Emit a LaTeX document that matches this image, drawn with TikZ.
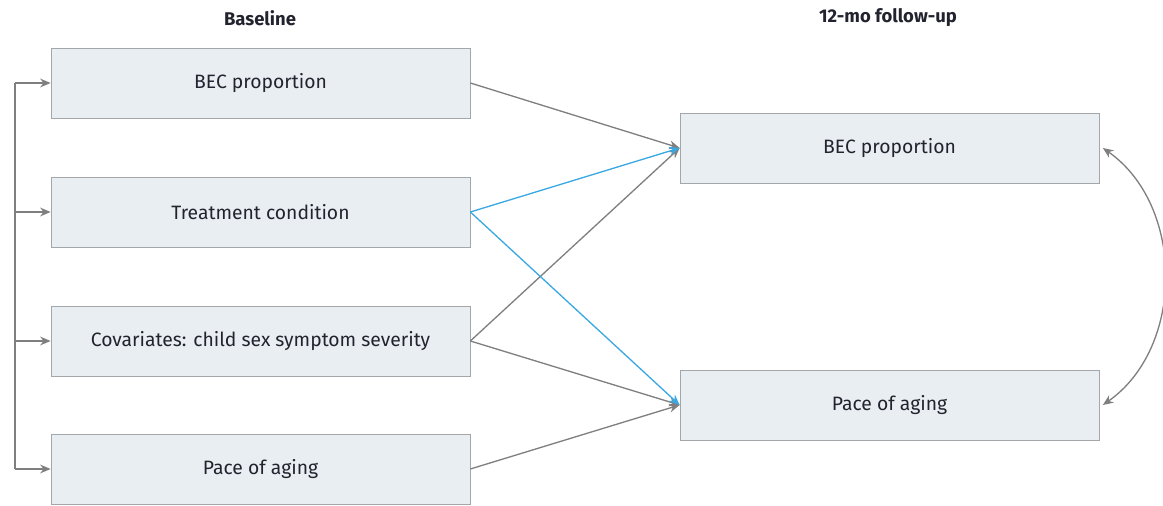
\documentclass[tikz,border=0pt]{standalone}
\usepackage{fontspec}
\setmainfont{Fira Sans}
\usetikzlibrary{arrows.meta}
\definecolor{boxfill}{HTML}{E8EEF2}
\definecolor{boxline}{HTML}{A4A7AA}
\definecolor{linkgray}{HTML}{7F7F7F}
\definecolor{linkblue}{HTML}{3AA8E2}
\definecolor{txt}{HTML}{23232F}
\tikzset{
  varbox/.style={draw=boxline, fill=boxfill, minimum width=8.38cm, minimum height=1.4cm, text=txt, font=\fontsize{11}{13}\selectfont},
  colhead/.style={text=txt, font=\fontsize{10.5}{12}\selectfont\bfseries},
  path/.style={->, draw=linkgray, line width=0.75pt},
  keypath/.style={->, draw=linkblue, line width=0.75pt}
}
\begin{document}
\begin{tikzpicture}[>={Stealth[length=6pt,width=5pt]}, scale=1.0]
\useasboundingbox (0,0) rectangle (23.26,10.1);
% column heads
\node[colhead] (hbase) at (5.2,9.74) {Baseline};
\node[colhead] (hfollow) at (17.76,9.74) {12-mo follow-up};
% baseline (left)
\node[varbox] (bec0) at (5.21,8.44) {BEC proportion};
\node[varbox] (treat) at (5.21,5.86) {Treatment condition};
\node[varbox] (cov) at (5.21,3.28) {Covariates: child sex symptom severity};
\node[varbox] (pace0) at (5.21,0.72) {Pace of aging};
% follow-up (right)
\node[varbox] (bec1) at (17.79,7.14) {BEC proportion};
\node[varbox] (pace1) at (17.79,2.0) {Pace of aging};
% correlated baseline measures
\coordinate (top) at (0.3,8.44);
\coordinate (bot) at (0.3,0.72);
\draw[line width=0.75pt, draw=linkgray] (top) -- (bot);
\foreach \v in {bec0,treat,cov,pace0}
  \draw[path] (top |- \v.west) -- (\v.west);
% paths to follow-up
\draw[path] (bec0.east) -- (bec1.west);
\draw[path] (cov.east) -- (bec1.west);
\draw[path] (cov.east) -- (pace1.west);
\draw[path] (pace0.east) -- (pace1.west);
\draw[keypath] (treat.east) -- (bec1.west);
\draw[keypath] (treat.east) -- (pace1.west);
% residual covariance
\draw[<->, draw=linkgray, line width=0.75pt] ([xshift=2pt]bec1.east) to[bend left=55] ([xshift=2pt]pace1.east);
\end{tikzpicture}
\end{document}
